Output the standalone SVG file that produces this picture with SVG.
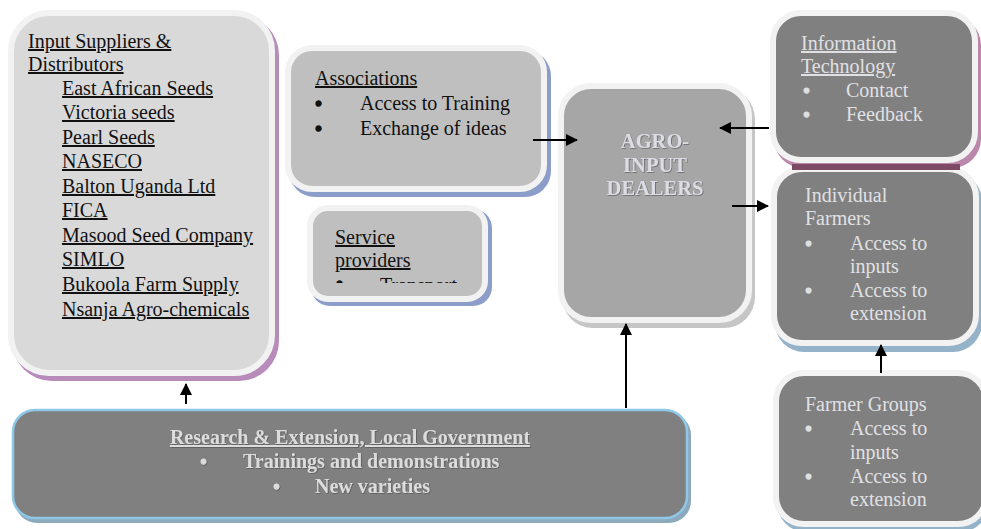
<svg xmlns="http://www.w3.org/2000/svg" width="981" height="529" viewBox="0 0 981 529">
<defs>
<style>
.t{font-family:"Liberation Serif","Times New Roman",serif;font-size:20px;fill:#111}
.lt{font-family:"Liberation Serif","Times New Roman",serif;font-size:20px;fill:#e0e0e4}
.bl{stroke:#111;stroke-width:1.6}
.lbl{stroke:#e0e0e4;stroke-width:1.2}
.b{font-weight:bold}
.u{text-decoration:underline}
.box{stroke:#f2f2f2;stroke-width:6}
.conn{stroke:#000;stroke-width:2;fill:none;marker-end:url(#ah)}
</style>
<marker id="ah" markerUnits="userSpaceOnUse" markerWidth="12" markerHeight="12" refX="11" refY="6" orient="auto">
<path d="M0,0 L12,6 L0,12 z" fill="#000"/>
</marker>
<filter id="emb" x="-5%" y="-10%" width="110%" height="130%">
<feDropShadow dx="0.8" dy="0.8" stdDeviation="0.4" flood-color="#404040" flood-opacity="0.6"/>
</filter>
<clipPath id="spclip"><rect x="313" y="211" width="170" height="72"/></clipPath>
</defs>

<g id="input-suppliers">
<rect x="12" y="15" width="267" height="366" rx="40" fill="#b78cba"/>
<rect class="box" x="11" y="13" width="261" height="360" rx="38" fill="#d9d9d9"/>
<text class="t u" x="28" y="48">Input Suppliers &amp;</text>
<text class="t u" x="28" y="71">Distributors</text>
<text class="t u" x="62" y="95">East African Seeds</text>
<text class="t u" x="62" y="119">Victoria seeds</text>
<text class="t u" x="62" y="144">Pearl Seeds</text>
<text class="t u" x="62" y="168">NASECO</text>
<text class="t u" x="62" y="193">Balton Uganda Ltd</text>
<text class="t u" x="62" y="217">FICA</text>
<text class="t u" x="62" y="242">Masood Seed Company</text>
<text class="t u" x="62" y="266">SIMLO</text>
<text class="t u" x="62" y="291">Bukoola Farm Supply</text>
<text class="t u" x="62" y="316">Nsanja Agro-chemicals</text>
</g>

<g id="associations">
<rect x="289" y="50" width="262" height="147" rx="26" fill="#8c9dc9"/>
<rect class="box" x="288" y="48" width="256" height="141" rx="24" fill="#bfbfbf"/>
<text class="t u" x="315" y="85">Associations</text>
<text class="t bl" x="315" y="111">•</text>
<text class="t" x="360" y="110">Access to Training</text>
<text class="t bl" x="315" y="136">•</text>
<text class="t" x="360" y="135">Exchange of ideas</text>
</g>

<g id="service-providers">
<rect x="311" y="209" width="181" height="97" rx="19" fill="#8c9dc9"/>
<rect class="box" x="310" y="208" width="175" height="91" rx="18" fill="#bfbfbf"/>
<text class="t u" x="335" y="244">Service</text>
<text class="t u" x="335" y="267">providers</text>
<g clip-path="url(#spclip)">
<text class="t bl" x="336" y="291">•</text>
<text class="t" x="380" y="292">Transport</text>
</g>
</g>

<g id="agro-input-dealers">
<rect x="562" y="88" width="193" height="240" rx="31" fill="#c6c6c6"/>
<rect class="box" x="561" y="86" width="188" height="234" rx="30" fill="#a6a6a6"/>
<g filter="url(#emb)">
<text class="lt b" x="655" y="148" text-anchor="middle" style="font-size:20.5px;fill:#dcdce4">AGRO-</text>
<text class="lt b" x="655" y="172" text-anchor="middle" style="font-size:20.5px;fill:#dcdce4">INPUT</text>
<text class="lt b" x="655" y="195" text-anchor="middle" style="font-size:20.5px;fill:#dcdce4">DEALERS</text>
</g>
</g>

<g id="individual-farmers">
<rect x="775" y="172" width="207" height="180" rx="29" fill="#94b3c9"/>
<rect class="box" x="774" y="169" width="202" height="174" rx="28" fill="#808080"/>
<text class="lt" x="805" y="202">Individual</text>
<text class="lt" x="805" y="225">Farmers</text>
<text class="lt lbl" x="805" y="251">•</text>
<text class="lt" x="850" y="250">Access to</text>
<text class="lt" x="850" y="273">inputs</text>
<text class="lt lbl" x="805" y="298">•</text>
<text class="lt" x="850" y="297">Access to</text>
<text class="lt" x="850" y="320">extension</text>
</g>

<g id="information-technology">
<rect x="774" y="16" width="207" height="152" rx="29" fill="#bb88ab"/>
<path d="M792,164 L960,164 L960,170 L792,170 z" fill="#7d4a66"/>
<rect class="box" x="773" y="13" width="202" height="147" rx="28" fill="#808080"/>
<text class="lt u" x="801" y="50">Information</text>
<text class="lt u" x="801" y="73">Technology</text>
<text class="lt lbl" x="803" y="98">•</text>
<text class="lt" x="846" y="97">Contact</text>
<text class="lt lbl" x="803" y="122">•</text>
<text class="lt" x="846" y="121">Feedback</text>
</g>

<g id="farmer-groups">
<rect x="777" y="376" width="212" height="156" rx="29" fill="#94b3c9"/>
<rect class="box" x="776" y="373" width="210" height="151" rx="28" fill="#808080"/>
<text class="lt" x="805" y="411">Farmer Groups</text>
<text class="lt lbl" x="805" y="436">•</text>
<text class="lt" x="850" y="435">Access to</text>
<text class="lt" x="850" y="459">inputs</text>
<text class="lt lbl" x="805" y="484">•</text>
<text class="lt" x="850" y="483">Access to</text>
<text class="lt" x="850" y="506">extension</text>
</g>

<g id="research-extension">
<rect x="15" y="413" width="676" height="110" rx="22" fill="#8da9bd"/>
<rect x="13" y="410" width="674" height="108" rx="22" fill="#808080" stroke="#8ec8e6" stroke-width="2.5"/>
<g filter="url(#emb)">
<text class="lt b u" x="350" y="444" text-anchor="middle" style="fill:#dcdcdc">Research &amp; Extension, Local Government</text>
<text class="lt lbl" x="200" y="469" style="fill:#dcdcdc;stroke:#dcdcdc">•</text>
<text class="lt b" x="243" y="468" style="fill:#dcdcdc">Trainings and demonstrations</text>
<text class="lt lbl" x="273" y="494" style="fill:#dcdcdc;stroke:#dcdcdc">•</text>
<text class="lt b" x="315" y="493" style="fill:#dcdcdc">New varieties</text>
</g>
</g>

<g id="connectors">
<line class="conn" x1="533" y1="140" x2="577" y2="140"/>
<line class="conn" x1="769" y1="128" x2="720" y2="128"/>
<line class="conn" x1="732" y1="206" x2="768" y2="206"/>
<line class="conn" x1="881" y1="373" x2="881" y2="345"/>
<line class="conn" x1="626" y1="408" x2="626" y2="324"/>
<line class="conn" x1="186" y1="404" x2="186" y2="384"/>
</g>
</svg>
